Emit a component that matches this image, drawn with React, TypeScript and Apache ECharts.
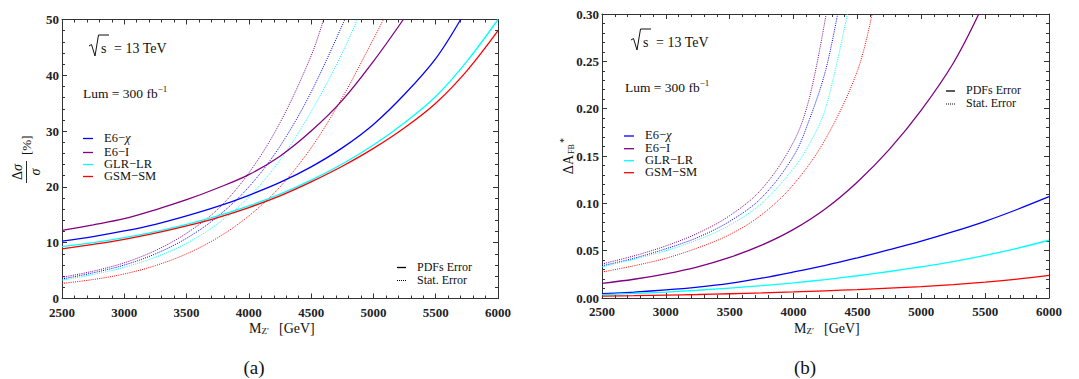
import React, { useEffect, useRef } from "react";
import * as echarts from "echarts";

// ---------- data ----------
const modelNames = ["E6−χ", "E6−I", "GLR−LR", "GSM−SM"];
const modelColors = ["#0000ff", "#800080", "#00ffff", "#ff0000"];
const errorNames = ["PDFs Error", "Stat. Error"];
const xTickMin = 2500;
const xTickMax = 6000;

// (a) Δσ/σ [%]
const sigE6chiPdf = [[2500, 10.3], [2750, 11.1], [3000, 12.1], [3250, 13.3], [3500, 14.8], [3750, 16.5], [4000, 18.5], [4250, 20.8], [4500, 23.6], [4750, 27.0], [5000, 31.2], [5250, 36.6], [5500, 43.0], [5700, 50]];
const sigE6IPdf = [[2500, 12.2], [2750, 13.2], [3000, 14.3], [3250, 15.9], [3500, 17.7], [3750, 19.8], [4000, 22.2], [4250, 25.5], [4500, 30.0], [4750, 35.5], [5000, 42.5], [5240, 50]];
const sigGLRPdf = [[2500, 9.3], [2750, 10.0], [3000, 10.9], [3250, 12.0], [3500, 13.3], [3750, 14.8], [4000, 16.6], [4250, 18.7], [4500, 21.2], [4750, 24.1], [5000, 27.5], [5250, 31.5], [5500, 36.2], [5750, 42.5], [6000, 50]];
const sigGSMPdf = [[2500, 8.9], [2750, 9.7], [3000, 10.6], [3250, 11.7], [3500, 13.0], [3750, 14.5], [4000, 16.3], [4250, 18.4], [4500, 20.9], [4750, 23.7], [5000, 26.9], [5250, 30.6], [5500, 35.0], [5750, 40.8], [6000, 48.0]];
const sigE6chiStat = [[2500, 3.5], [2750, 4.6], [3000, 6.0], [3250, 8.0], [3500, 10.8], [3750, 14.7], [4000, 20.0], [4250, 27.3], [4500, 37.0], [4770, 50]];
const sigE6IStat = [[2500, 3.8], [2750, 4.9], [3000, 6.4], [3250, 8.6], [3500, 11.7], [3750, 16.0], [4000, 22.5], [4250, 31.5], [4500, 43.5], [4600, 50]];
const sigGLRStat = [[2500, 3.3], [2750, 4.3], [3000, 5.6], [3250, 7.4], [3500, 9.9], [3750, 13.4], [4000, 18.2], [4250, 24.8], [4500, 33.5], [4750, 44.0], [4870, 50]];
const sigGSMStat = [[2500, 2.7], [2750, 3.4], [3000, 4.4], [3250, 5.9], [3500, 8.0], [3750, 10.9], [4000, 14.8], [4250, 20.0], [4500, 27.0], [4750, 36.0], [5000, 46.5], [5080, 50]];

// (b) ΔA_FB*
const afbE6chiPdf = [[2500, 0.0045], [2750, 0.0062], [3000, 0.0085], [3250, 0.0115], [3500, 0.0155], [3750, 0.021], [4000, 0.0275], [4250, 0.0345], [4500, 0.0425], [4750, 0.051], [5000, 0.060], [5250, 0.070], [5500, 0.081], [5750, 0.0935], [6000, 0.107]];
const afbE6IPdf = [[2500, 0.0155], [2750, 0.0198], [3000, 0.0256], [3250, 0.0330], [3500, 0.0429], [3750, 0.0558], [4000, 0.0725], [4250, 0.0943], [4500, 0.1226], [4750, 0.157], [5000, 0.1985], [5250, 0.248], [5450, 0.30]];
const afbGLRPdf = [[2500, 0.0035], [2750, 0.0048], [3000, 0.0063], [3250, 0.0082], [3500, 0.0105], [3750, 0.013], [4000, 0.016], [4250, 0.0195], [4500, 0.0235], [4750, 0.028], [5000, 0.033], [5250, 0.0385], [5500, 0.045], [5750, 0.0525], [6000, 0.061]];
const afbGSMPdf = [[2500, 0.0020], [2750, 0.0025], [3000, 0.0031], [3250, 0.0037], [3500, 0.0045], [3750, 0.0054], [4000, 0.0064], [4250, 0.0076], [4500, 0.0089], [4750, 0.0104], [5000, 0.0121], [5250, 0.0142], [5500, 0.0168], [5750, 0.020], [6000, 0.024]];
const afbE6chiStat = [[2500, 0.034], [2750, 0.042], [3000, 0.052], [3250, 0.064], [3500, 0.081], [3750, 0.106], [4000, 0.150], [4125, 0.189], [4250, 0.240], [4345, 0.30]];
const afbE6IStat = [[2500, 0.036], [2750, 0.0445], [3000, 0.055], [3250, 0.0685], [3500, 0.087], [3750, 0.115], [4000, 0.165], [4125, 0.212], [4255, 0.30]];
const afbGLRStat = [[2500, 0.033], [2750, 0.041], [3000, 0.050], [3250, 0.0615], [3500, 0.077], [3750, 0.100], [4000, 0.137], [4125, 0.163], [4250, 0.200], [4421, 0.30]];
const afbGSMStat = [[2500, 0.0274], [2750, 0.034], [3000, 0.042], [3250, 0.053], [3500, 0.067], [3750, 0.088], [4000, 0.120], [4250, 0.168], [4500, 0.240], [4615, 0.30]];

const FONT = '"Liberation Serif", "Times New Roman", serif';
const INK = "#111";
const AX = "#333";

function xAxes(gridIndex: number) {
  const base = {
    type: "value",
    gridIndex,
    min: xTickMin,
    max: xTickMax,
    interval: 500,
    axisLine: { show: true, onZero: false, lineStyle: { color: AX, width: 1 } },
    axisTick: { show: true, inside: true, length: 5, lineStyle: { color: AX } },
    minorTick: { show: true, splitNumber: 5, length: 3, lineStyle: { color: AX } },
    splitLine: { show: false },
  };
  return [
    { ...base, position: "bottom", axisLabel: { margin: 7, fontFamily: FONT, fontSize: 13, fontWeight: "bold", color: "#222", formatter: (v: number) => String(v) } },
    { ...base, position: "top", axisLabel: { show: false } },
  ];
}

function yAxes(gridIndex: number, max: number, interval: number, fmt: (v: number) => string) {
  const base = {
    type: "value",
    gridIndex,
    min: 0,
    max,
    interval,
    axisLine: { show: true, onZero: false, lineStyle: { color: AX, width: 1 } },
    axisTick: { show: true, inside: true, length: 5, lineStyle: { color: AX } },
    minorTick: { show: true, splitNumber: 5, length: 3, lineStyle: { color: AX } },
    splitLine: { show: false },
  };
  return [
    { ...base, position: "left", axisLabel: { margin: 3, fontFamily: FONT, fontSize: 13, fontWeight: "bold", color: "#222", formatter: fmt } },
    { ...base, position: "right", axisLabel: { show: false } },
  ];
}

function line(name: string, data: number[][], color: string, dotted: boolean, xi: number, yi: number) {
  return {
    name,
    type: "line",
    xAxisIndex: xi,
    yAxisIndex: yi,
    data,
    showSymbol: false,
    smooth: 0.35,
    clip: true,
    lineStyle: dotted ? { color, width: 1, type: [1, 1.2] } : { color, width: 1.3, type: "solid" },
    emphasis: { disabled: true },
  };
}

function T(x: number, y: number, text: string, size = 13, extra: any = {}) {
  return {
    type: "text",
    x,
    y,
    silent: true,
    style: {
      text,
      fontFamily: FONT,
      fontSize: size,
      fill: INK,
      align: extra.align || "left",
      textAlign: extra.align || "left",
      verticalAlign: "middle",
      textVerticalAlign: "middle",
      ...(extra.style || {}),
    },
  };
}

function L(x1: number, y1: number, x2: number, y2: number, color: string, width = 1.3, dash?: number[]) {
  return {
    type: "line",
    silent: true,
    shape: { x1, y1, x2, y2 },
    style: { stroke: color, lineWidth: width, lineDash: dash },
  };
}

function legendLabel(name: string) {
  return name.replace("χ", "{i|χ}");
}

function panelDecor(dx: number, dy: number, rows: number[], lx: number, tx: number, errX: number, errY: number) {
  const els: any[] = [];
  // sqrt(s) = 13 TeV
  els.push({
    type: "polyline",
    silent: true,
    shape: { points: [[89 + dx, 46 + dy], [91.5 + dx, 44.5 + dy], [95 + dx, 56 + dy], [98.5 + dx, 35 + dy], [109 + dx, 35 + dy]] },
    style: { stroke: INK, lineWidth: 1, fill: null },
  });
  els.push(T(101 + dx, 48.5 + dy, "s", 14));
  els.push(T(114 + dx, 48.5 + dy, "= 13 TeV", 14));
  // Lum
  els.push(T(83 + dx, 93 + dy, "Lum = 300 fb{sup|−1}", 13.5, { style: { rich: { sup: { fontFamily: FONT, fontSize: 9, fill: INK, padding: [0, 0, 8, 0] } } } }));
  // model legend
  rows.forEach((ry, i) => {
    els.push(L(lx, ry, lx + 10, ry, modelColors[i], 1.3));
    els.push(T(tx, ry - 1, legendLabel(modelNames[i]), 12.5, { style: { rich: { i: { fontFamily: FONT, fontSize: 12.5, fontStyle: "italic", fill: INK } } } }));
  });
  // error legend
  els.push(L(errX, errY + 0.5, errX + 9, errY + 0.5, "#000", 1.3));
  els.push(L(errX, errY + 13.5, errX + 9, errY + 13.5, "#000", 1, [1, 1]));
  els.push(T(errX + 20, errY - 0.5, errorNames[0], 12));
  els.push(T(errX + 20, errY + 12.5, errorNames[1], 12));
  return els;
}

function axisName(cx: number, cy: number) {
  return [
    T(cx - 31, cy, "M", 14),
    T(cx - 18.5, cy + 3, "Z′", 9),
    T(cx - 1, cy, "[GeV]", 14),
  ];
}

export default function App() {
  const ref = useRef<HTMLDivElement>(null);
  useEffect(() => {
    if (!ref.current) return;
    const chart = echarts.init(ref.current, undefined, { renderer: "svg" });
    const series = [
      line("E6-χ Stat (a)", sigE6chiStat, modelColors[0], true, 0, 0),
      line("E6-I Stat (a)", sigE6IStat, modelColors[1], true, 0, 0),
      line("GLR-LR Stat (a)", sigGLRStat, modelColors[2], true, 0, 0),
      line("GSM-SM Stat (a)", sigGSMStat, modelColors[3], true, 0, 0),
      line("E6-I PDF (a)", sigE6IPdf, modelColors[1], false, 0, 0),
      line("E6-χ PDF (a)", sigE6chiPdf, modelColors[0], false, 0, 0),
      line("GLR-LR PDF (a)", sigGLRPdf, modelColors[2], false, 0, 0),
      line("GSM-SM PDF (a)", sigGSMPdf, modelColors[3], false, 0, 0),
      line("E6-χ Stat (b)", afbE6chiStat, modelColors[0], true, 2, 2),
      line("E6-I Stat (b)", afbE6IStat, modelColors[1], true, 2, 2),
      line("GLR-LR Stat (b)", afbGLRStat, modelColors[2], true, 2, 2),
      line("GSM-SM Stat (b)", afbGSMStat, modelColors[3], true, 2, 2),
      line("E6-I PDF (b)", afbE6IPdf, modelColors[1], false, 2, 2),
      line("E6-χ PDF (b)", afbE6chiPdf, modelColors[0], false, 2, 2),
      line("GLR-LR PDF (b)", afbGLRPdf, modelColors[2], false, 2, 2),
      line("GSM-SM PDF (b)", afbGSMPdf, modelColors[3], false, 2, 2),
    ];

    const richItalic14 = { i: { fontFamily: FONT, fontSize: 14, fontStyle: "italic", fill: INK } };
    const graphic: any[] = [
      ...panelDecor(0, 0, [138.5, 152.5, 164.5, 176.5], 83, 104, 397, 267),
      ...panelDecor(542, -6, [136, 148.7, 160.7, 172.7], 624, 645, 946, 90.5),
      ...axisName(280, 328),
      ...axisName(825, 328),
      T(254, 367, "(a)", 19, { align: "center" }),
      T(805, 367, "(b)", 19, { align: "center" }),
      // y name (a): Δσ / σ [%]
      {
        type: "group",
        x: 26.5,
        y: 172,
        rotation: Math.PI / 2,
        silent: true,
        children: [
          T(0, -9, "Δ{i|σ}", 14, { align: "center", style: { rich: richItalic14 } }),
          L(-11, 0, 11, 0, INK, 0.9),
          T(0, 9, "{i|σ}", 14, { align: "center", style: { rich: richItalic14 } }),
          T(17, 0, "[%]", 13, { align: "left" }),
        ],
      },
      // y name (b): ΔA_FB*
      {
        type: "group",
        x: 568,
        y: 152,
        rotation: Math.PI / 2,
        silent: true,
        children: [
          T(-3, 0, "ΔA", 14, { align: "right" }),
          T(-2, 3.5, "FB", 8, { align: "left" }),
          T(9, -5, "*", 10, { align: "left" }),
        ],
      },
    ];

    chart.setOption({
      animation: false,
      backgroundColor: "#fff",
      grid: [
        { left: 62, top: 19.5, width: 436, height: 279, containLabel: false },
        { left: 602, top: 14, width: 447, height: 284, containLabel: false },
      ],
      xAxis: [...xAxes(0), ...xAxes(1)],
      yAxis: [
        ...yAxes(0, 50, 10, (v: number) => String(Math.round(v))),
        ...yAxes(1, 0.3, 0.05, (v: number) => v.toFixed(2)),
      ],
      series,
      graphic,
    });
    return () => chart.dispose();
  }, []);
  return <div ref={ref} style={{ position: "absolute", left: 0, top: 0, width: 1079, height: 379 }} />;
}
